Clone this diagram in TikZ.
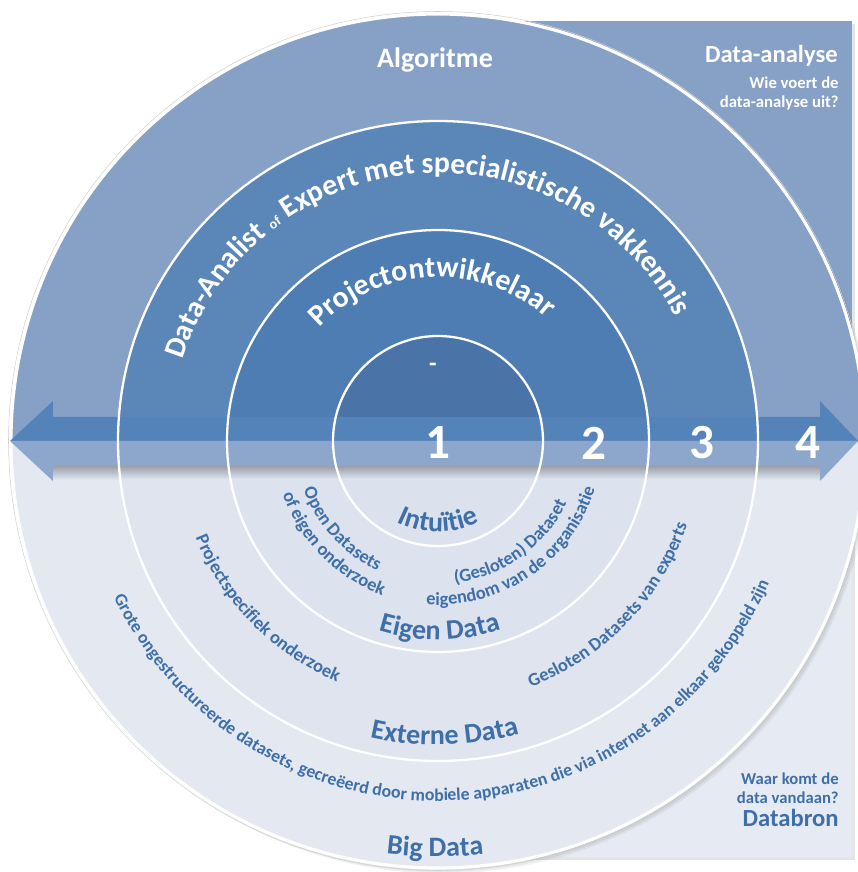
\documentclass[tikz,border=0pt]{standalone}
\usepackage{fontspec}
\setmainfont{Carlito}
\usepackage{xcolor}
\usepackage{tikz}
\usetikzlibrary{decorations.text, positioning}
\definecolor{ringfour}{RGB}{135, 160, 198}
\definecolor{ringthree}{RGB}{91, 134, 184}
\definecolor{ringtwo}{RGB}{77, 125, 178}
\definecolor{ringone}{RGB}{74, 115, 167}
\definecolor{lowfour}{RGB}{228, 232, 241}
\definecolor{lowthree}{RGB}{223, 228, 239}
\definecolor{lowtwo}{RGB}{221, 227, 238}
\definecolor{lowone}{RGB}{220, 226, 237}
\definecolor{lowcorner}{RGB}{230, 234, 242}
\definecolor{arrowtop}{RGB}{84, 131, 186}
\definecolor{arrowlow}{RGB}{141, 167, 204}
\definecolor{srcblue}{RGB}{62, 111, 168}

% fonts for the curved labels
\newcommand{\ringbig}{\color{white}\bfseries\fontsize{17}{17}\selectfont}
\newcommand{\ringsmall}{\color{white}\bfseries\fontsize{8}{8}\selectfont}
\newcommand{\srcbig}{\color{srcblue}\bfseries\fontsize{16}{16}\selectfont}
\newcommand{\srcsmall}{\color{srcblue}\bfseries\fontsize{10.5}{10.5}\selectfont}
\newcommand{\srcfine}{\color{srcblue}\bfseries\fontsize{10.1}{10.1}\selectfont}

\tikzset{
    arctext/.style={decorate, decoration={text along path, text align=center, text={#1}}},
    stepnum/.style={white, font=\bfseries\fontsize{28}{28}\selectfont},
    cornertitle/.style={anchor=base east, inner sep=0pt, font=\bfseries\fontsize{14}{14}\selectfont},
    cornerask/.style={anchor=north east, inner sep=0pt, align=right, font=\bfseries\fontsize{9.5}{10.8}\selectfont},
}

\begin{document}
\begin{tikzpicture}[x=0.02cm, y=0.02cm]
    \useasboundingbox (-438,-431) rectangle (420,441);

    % Corner panels
    \fill[black, opacity=0.10] (3,-419) rectangle (417,417);
    \fill[ringfour] (0,0) rectangle (414,420);
    \fill[lowcorner] (0,0) rectangle (414,-416);

    % Soft shadow of the disc
    \foreach \s in {1,2,3}
        \fill[black, opacity=0.05] (\s*1.5,-\s*1.5) circle[radius=428];

    % Discs, outer to inner: upper half blue, lower half light
    \foreach \r/\up/\low in {428/ringfour/lowfour, 320/ringthree/lowthree, 211/ringtwo/lowtwo, 105/ringone/lowone} {
        \fill[\up] (\r,0) arc[start angle=0, end angle=180, radius=\r] -- cycle;
        \fill[\low] (\r,0) arc[start angle=0, end angle=-180, radius=\r] -- cycle;
    }
    \draw[black!18, line width=0.3pt] (0,0) circle[radius=429.5];
    \draw[white, line width=1.8pt] (0,0) circle[radius=427];

    % Double arrow with its shadow
    \shade[top color=black!30!lowtwo, bottom color=lowtwo] (-385,-25) rectangle (382,-38);
    \fill[arrowtop] (-428,0) -- (-385,40) -- (-385,24) -- (382,24) -- (382,40) -- (420,0) -- cycle;
    \fill[arrowlow] (-428,0) -- (-385,-40) -- (-385,-25) -- (382,-25) -- (382,-40) -- (420,0) -- cycle;

    % Ring borders
    \foreach \r in {320, 211, 105}
        \draw[white, line width=1.3pt] (0,0) circle[radius=\r];

    % Step numbers
    \foreach \n/\x in {1/0, 2/156, 3/264, 4/370}
        \node[stepnum] (num\n) at (\x,-2) {\n};
    \node[white, font=\bfseries\fontsize{14}{14}\selectfont] (dash) at (-5,74) {-};

    % Who runs the analysis
    \node[white, anchor=base, font=\bfseries\fontsize{16}{16}\selectfont] (algo) at (-3,373) {Algoritme};
    \path[arctext={|\ringbig|Data-Analist |\ringsmall|of|\ringbig| Expert met specialistische vakkennis}]
        (185:268) arc[start angle=185, end angle=5, radius=268];
    \path[arctext={|\ringbig|Projectontwikkelaar}]
        (182.5:164) arc[start angle=182.5, end angle=2.5, radius=164];

    % Where the data comes from
    \path[arctext={|\srcbig|Intuïtie}] (180:91) arc[start angle=180, end angle=360, radius=91];
    \path[arctext={|\srcbig|Eigen Data}] (180.5:199) arc[start angle=180.5, end angle=360.5, radius=199];
    \path[arctext={|\srcbig|Externe Data}] (181.3:304) arc[start angle=181.3, end angle=361.3, radius=304];
    \path[arctext={|\srcbig|Big Data}] (179.6:416) arc[start angle=179.6, end angle=359.6, radius=416];

    \path[arctext={|\srcsmall|Open Datasets}] (132.5:143) arc[start angle=132.5, end angle=312.5, radius=143];
    \path[arctext={|\srcsmall|of eigen onderzoek}] (134.5:164) arc[start angle=134.5, end angle=314.5, radius=164];
    \path[arctext={|\srcsmall|(Gesloten) Dataset}] (215.5:143) arc[start angle=215.5, end angle=395.5, radius=143];
    \path[arctext={|\srcsmall|eigendom van de organisatie}] (214.5:164) arc[start angle=214.5, end angle=394.5, radius=164];
    \path[arctext={|\srcsmall|Projectspecifiek onderzoek}] (134.5:261) arc[start angle=134.5, end angle=314.5, radius=261];
    \path[arctext={|\srcsmall|Gesloten Datasets van experts}] (226:263) arc[start angle=226, end angle=406, radius=263];
    \path[arctext={|\srcfine|Grote ongestructureerde datasets, gecreëerd door mobiele apparaten die via internet aan elkaar gekoppeld zijn}]
        (181.3:360) arc[start angle=181.3, end angle=361.3, radius=360];

    % Corner captions
    \node[cornertitle, white] (daTitle) at (400,378) {Data-analyse};
    \node[cornerask, white] (daAsk) at (401,365) {Wie voert de\\data-analyse uit?};
    \node[cornerask, srcblue] (dbAsk) at (401,-331) {Waar komt de\\data vandaan?};
    \node[cornertitle, srcblue] (dbTitle) at (401,-385) {Databron};
\end{tikzpicture}
\end{document}
